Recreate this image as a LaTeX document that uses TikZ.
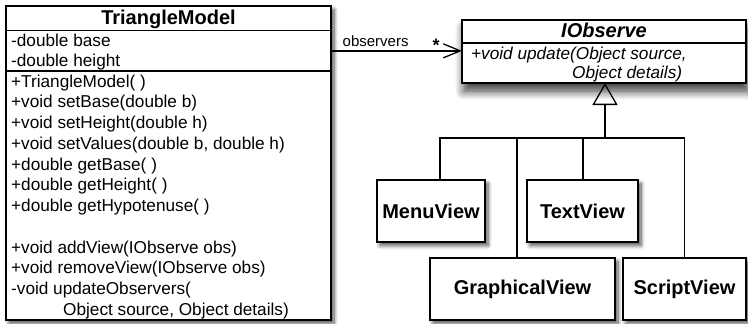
\documentclass[tikz,border=0pt]{standalone}
\usepackage{fontspec}
\setmainfont{Liberation Sans}
\usetikzlibrary{arrows.meta,shadows.blur}
\begin{document}
\begin{tikzpicture}[x=1pt,y=-1pt,
  lw/.style={line width=1.3pt},
  box/.style={draw, lw, fill=white, inner sep=0pt, outer sep=0pt},
  shd/.style={blur shadow={shadow xshift=3pt, shadow yshift=-3.5pt, shadow blur radius=4pt, shadow blur steps=8, shadow opacity=70}},
  bigshd/.style={blur shadow={shadow xshift=2pt, shadow yshift=-8pt, shadow blur radius=9pt, shadow blur steps=10, shadow opacity=80}},
  txt/.style={anchor=base west, inner sep=0pt, font=\fontsize{17.2}{20}\selectfont},
  itxt/.style={txt, font=\fontsize{17.2}{20}\selectfont\itshape},
  ttl/.style={font=\fontsize{20}{24}\selectfont\bfseries},
  view/.style={box, shd, ttl},
  conn/.style={lw}
]
\useasboundingbox (0,0) rectangle (748,324);

% ---------- TriangleModel ----------
\node[box, shd, minimum width=325pt, minimum height=314pt] (tm) at (168.5,163) {};
\node[box, minimum width=325pt, minimum height=24.7pt] (tmtitle) at (168.5,18.35) {};
\node[box, minimum width=325pt, minimum height=40.3pt] (tmattr) at (168.5,50.85) {};
\node[box, minimum width=325pt, minimum height=249pt] (tmops) at (168.5,195.5) {};
\node[ttl, anchor=base, inner sep=0pt] (tmname) at (168.5,24.5) {TriangleModel};

\node[txt] (a1) at (11,46.5) {-double base};
\node[txt] (a2) at (11,66.3) {-double height};

\foreach \t [count=\i from 0] in {%
  {+TriangleModel( )},
  {+void setBase(double b)},
  {+void setHeight(double h)},
  {+void setValues(double b, double h)},
  {+double getBase( )},
  {+double getHeight( )},
  {+double getHypotenuse( )},
  {},
  {+void addView(IObserve obs)},
  {+void removeView(IObserve obs)},
  {-void updateObservers(}}
  \node[txt] (m\i) at (11,87+20.75*\i) {\t};
\node[txt] (m11) at (63,87+20.75*11) {Object source, Object details)};

% ---------- IObserve ----------
\node[box, bigshd, minimum width=284pt, minimum height=63pt] (iob) at (604,51.5) {};
\node[box, minimum width=284pt, minimum height=23pt] (iobtitle) at (604,31.5) {};
\node[box, minimum width=284pt, minimum height=40pt] (iobops) at (604,63) {};
\node[ttl, anchor=base, inner sep=0pt, font=\fontsize{20}{24}\selectfont\bfseries\itshape] (iobname) at (604,37) {IObserve};
\node[itxt] (u1) at (471,59.5) {+void update(Object source,};
\node[itxt] (u2) at (572,78.3) {Object details)};

% ---------- views ----------
\node[view, minimum width=108pt, minimum height=62pt] (menu) at (431,211) {MenuView};
\node[view, minimum width=111pt, minimum height=62pt] (text) at (582.5,211) {TextView};
\node[view, minimum width=185pt, minimum height=62pt] (graph) at (522.5,289) {GraphicalView};
\node[view, minimum width=123pt, minimum height=62pt] (script) at (684.5,289) {ScriptView};

% ---------- association ----------
\draw[conn, -{Straight Barb[length=17pt, width=14pt, line width=1.3pt]}] (tmattr.east) -- (tmattr.east -| iob.west);
\node[anchor=base west, inner sep=0pt, font=\fontsize{15}{18}\selectfont] (obslbl) at (342.5,46) {observers};
\node[anchor=base, inner sep=0pt, font=\fontsize{18}{20}\selectfont\bfseries] (mult) at (436,51) {*};

% ---------- generalization ----------
\coordinate (hub) at (605,138);
\draw[conn, -{Triangle[open, length=22pt, width=25pt, line width=1.3pt]}] (hub) -- (hub |- iob.south);
\draw[conn] ([xshift=9pt]menu.north) |- (hub);
\draw[conn] ([xshift=-5.5pt]graph.north) |- (hub);
\draw[conn] ([xshift=0.5pt]text.north) |- (hub);
\draw[conn] (script.north) |- (hub);
\end{tikzpicture}
\end{document}
